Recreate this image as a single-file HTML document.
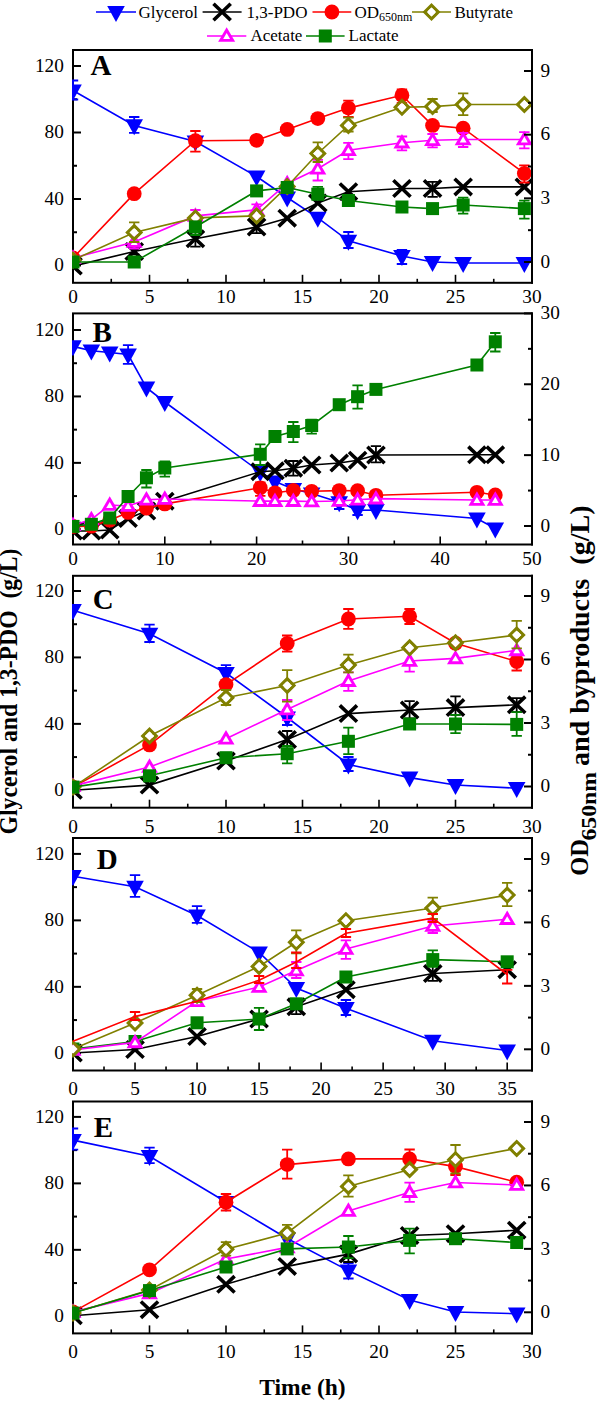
<!DOCTYPE html>
<html><head><meta charset="utf-8"><style>html,body{margin:0;padding:0;background:#fff;overflow:hidden}svg{display:block}</style></head><body>
<svg width="597" height="1401" viewBox="0 0 597 1401" font-family='"Liberation Serif", serif'>
<rect width="597" height="1401" fill="#ffffff"/>
<clipPath id="c0"><rect x="72" y="49" width="461" height="234.8"/></clipPath>
<rect x="73" y="50" width="459" height="232.8" fill="none" stroke="#000" stroke-width="2"/>
<path d="M73 265.5H81" stroke="#000" stroke-width="2"/>
<text x="63.8" y="271.32" font-size="19.3" text-anchor="end" font-weight="normal">0</text>
<path d="M73 232.25H77" stroke="#000" stroke-width="2"/>
<path d="M73 199H81" stroke="#000" stroke-width="2"/>
<text x="63.8" y="204.82" font-size="19.3" text-anchor="end" font-weight="normal">40</text>
<path d="M73 165.75H77" stroke="#000" stroke-width="2"/>
<path d="M73 132.5H81" stroke="#000" stroke-width="2"/>
<text x="63.8" y="138.32" font-size="19.3" text-anchor="end" font-weight="normal">80</text>
<path d="M73 99.25H77" stroke="#000" stroke-width="2"/>
<path d="M73 66H81" stroke="#000" stroke-width="2"/>
<text x="63.8" y="71.82" font-size="19.3" text-anchor="end" font-weight="normal">120</text>
<path d="M73 282.8V274.8" stroke="#000" stroke-width="1.6"/>
<text x="73" y="302.82" font-size="19.3" text-anchor="middle" font-weight="normal">0</text>
<path d="M111.25 282.8V278.8" stroke="#000" stroke-width="1.6"/>
<path d="M149.5 282.8V274.8" stroke="#000" stroke-width="1.6"/>
<text x="149.5" y="302.82" font-size="19.3" text-anchor="middle" font-weight="normal">5</text>
<path d="M187.75 282.8V278.8" stroke="#000" stroke-width="1.6"/>
<path d="M226 282.8V274.8" stroke="#000" stroke-width="1.6"/>
<text x="226" y="302.82" font-size="19.3" text-anchor="middle" font-weight="normal">10</text>
<path d="M264.25 282.8V278.8" stroke="#000" stroke-width="1.6"/>
<path d="M302.5 282.8V274.8" stroke="#000" stroke-width="1.6"/>
<text x="302.5" y="302.82" font-size="19.3" text-anchor="middle" font-weight="normal">15</text>
<path d="M340.75 282.8V278.8" stroke="#000" stroke-width="1.6"/>
<path d="M379 282.8V274.8" stroke="#000" stroke-width="1.6"/>
<text x="379" y="302.82" font-size="19.3" text-anchor="middle" font-weight="normal">20</text>
<path d="M417.25 282.8V278.8" stroke="#000" stroke-width="1.6"/>
<path d="M455.5 282.8V274.8" stroke="#000" stroke-width="1.6"/>
<text x="455.5" y="302.82" font-size="19.3" text-anchor="middle" font-weight="normal">25</text>
<path d="M493.75 282.8V278.8" stroke="#000" stroke-width="1.6"/>
<path d="M532 282.8V274.8" stroke="#000" stroke-width="1.6"/>
<text x="532" y="302.82" font-size="19.3" text-anchor="middle" font-weight="normal">30</text>
<g clip-path="url(#c0)">
<polyline points="73,90.5 134.2,125.4 195.4,141.5 256.6,176.5 287.2,197.5 317.8,217.9 348.4,240.8 401.95,256 432.55,262 463.15,263 524.35,263" fill="none" stroke="#0000ff" stroke-width="1.6"/>
<path d="M73 80.5V99.5M67.8 80.5H78.2M67.8 99.5H78.2" stroke="#0000ff" stroke-width="1.8" fill="none"/>
<path d="M134.2 117V132.8M129 117H139.4M129 132.8H139.4" stroke="#0000ff" stroke-width="1.8" fill="none"/>
<path d="M348.4 232V248M343.2 232H353.6M343.2 248H353.6" stroke="#0000ff" stroke-width="1.8" fill="none"/>
<path d="M401.95 250V264M396.75 250H407.15M396.75 264H407.15" stroke="#0000ff" stroke-width="1.8" fill="none"/>
<path d="M64.2 84.42L81.8 84.42L73 100.42Z" fill="#0000ff"/>
<path d="M125.4 119.32L143 119.32L134.2 135.32Z" fill="#0000ff"/>
<path d="M186.6 135.42L204.2 135.42L195.4 151.42Z" fill="#0000ff"/>
<path d="M247.8 170.42L265.4 170.42L256.6 186.42Z" fill="#0000ff"/>
<path d="M278.4 191.42L296 191.42L287.2 207.42Z" fill="#0000ff"/>
<path d="M309 211.82L326.6 211.82L317.8 227.82Z" fill="#0000ff"/>
<path d="M339.6 234.72L357.2 234.72L348.4 250.72Z" fill="#0000ff"/>
<path d="M393.15 249.92L410.75 249.92L401.95 265.92Z" fill="#0000ff"/>
<path d="M423.75 255.92L441.35 255.92L432.55 271.92Z" fill="#0000ff"/>
<path d="M454.35 256.92L471.95 256.92L463.15 272.92Z" fill="#0000ff"/>
<path d="M515.55 256.92L533.15 256.92L524.35 272.92Z" fill="#0000ff"/>
<polyline points="73,266.1 134.2,251.5 195.4,238.8 256.6,227 287.2,218.2 317.8,203 348.4,191.7 401.95,188.5 432.55,188.5 463.15,186.9 524.35,186.9" fill="none" stroke="#000000" stroke-width="1.6"/>
<path d="M134.2 246.7V254.4M129 246.7H139.4M129 254.4H139.4" stroke="#000000" stroke-width="1.8" fill="none"/>
<path d="M195.4 235V246.7M190.2 235H200.6M190.2 246.7H200.6" stroke="#000000" stroke-width="1.8" fill="none"/>
<path d="M256.6 221.6V233.2M251.4 221.6H261.8M251.4 233.2H261.8" stroke="#000000" stroke-width="1.8" fill="none"/>
<path d="M432.55 181.8V196.8M427.35 181.8H437.75M427.35 196.8H437.75" stroke="#000000" stroke-width="1.8" fill="none"/>
<path d="M64.4 257.9L81.6 274.3M64.4 274.3L81.6 257.9" stroke="#000000" stroke-width="3.6" stroke-linecap="butt" fill="none"/>
<path d="M125.6 243.3L142.8 259.7M125.6 259.7L142.8 243.3" stroke="#000000" stroke-width="3.6" stroke-linecap="butt" fill="none"/>
<path d="M186.8 230.6L204 247M186.8 247L204 230.6" stroke="#000000" stroke-width="3.6" stroke-linecap="butt" fill="none"/>
<path d="M248 218.8L265.2 235.2M248 235.2L265.2 218.8" stroke="#000000" stroke-width="3.6" stroke-linecap="butt" fill="none"/>
<path d="M278.6 210L295.8 226.4M278.6 226.4L295.8 210" stroke="#000000" stroke-width="3.6" stroke-linecap="butt" fill="none"/>
<path d="M309.2 194.8L326.4 211.2M309.2 211.2L326.4 194.8" stroke="#000000" stroke-width="3.6" stroke-linecap="butt" fill="none"/>
<path d="M339.8 183.5L357 199.9M339.8 199.9L357 183.5" stroke="#000000" stroke-width="3.6" stroke-linecap="butt" fill="none"/>
<path d="M393.35 180.3L410.55 196.7M393.35 196.7L410.55 180.3" stroke="#000000" stroke-width="3.6" stroke-linecap="butt" fill="none"/>
<path d="M423.95 180.3L441.15 196.7M423.95 196.7L441.15 180.3" stroke="#000000" stroke-width="3.6" stroke-linecap="butt" fill="none"/>
<path d="M454.55 178.7L471.75 195.1M454.55 195.1L471.75 178.7" stroke="#000000" stroke-width="3.6" stroke-linecap="butt" fill="none"/>
<path d="M515.75 178.7L532.95 195.1M515.75 195.1L532.95 178.7" stroke="#000000" stroke-width="3.6" stroke-linecap="butt" fill="none"/>
</g>
<g clip-path="url(#c0)">
<polyline points="73,258 134.2,193.7 195.4,140.7 256.6,140.3 287.2,129.4 317.8,118.6 348.4,108.1 401.95,95.3 432.55,125.4 463.15,128.2 524.35,173.4" fill="none" stroke="#ff0000" stroke-width="1.6"/>
<path d="M195.4 131V151.6M190.2 131H200.6M190.2 151.6H200.6" stroke="#ff0000" stroke-width="1.8" fill="none"/>
<path d="M348.4 100.6V117M343.2 100.6H353.6M343.2 117H353.6" stroke="#ff0000" stroke-width="1.8" fill="none"/>
<path d="M401.95 89.5V103M396.75 89.5H407.15M396.75 103H407.15" stroke="#ff0000" stroke-width="1.8" fill="none"/>
<path d="M524.35 165.4V182.5M519.15 165.4H529.55M519.15 182.5H529.55" stroke="#ff0000" stroke-width="1.8" fill="none"/>
<circle cx="73" cy="258" r="7.4" fill="#ff0000"/>
<circle cx="134.2" cy="193.7" r="7.4" fill="#ff0000"/>
<circle cx="195.4" cy="140.7" r="7.4" fill="#ff0000"/>
<circle cx="256.6" cy="140.3" r="7.4" fill="#ff0000"/>
<circle cx="287.2" cy="129.4" r="7.4" fill="#ff0000"/>
<circle cx="317.8" cy="118.6" r="7.4" fill="#ff0000"/>
<circle cx="348.4" cy="108.1" r="7.4" fill="#ff0000"/>
<circle cx="401.95" cy="95.3" r="7.4" fill="#ff0000"/>
<circle cx="432.55" cy="125.4" r="7.4" fill="#ff0000"/>
<circle cx="463.15" cy="128.2" r="7.4" fill="#ff0000"/>
<circle cx="524.35" cy="173.4" r="7.4" fill="#ff0000"/>
<polyline points="73,258 134.2,242 195.4,215.9 256.6,209.8 287.2,183.5 317.8,168.8 348.4,150.3 401.95,142.7 432.55,140.3 463.15,139.5 524.35,139.5" fill="none" stroke="#ff00ff" stroke-width="1.6"/>
<path d="M134.2 235V248.6M129 235H139.4M129 248.6H139.4" stroke="#ff00ff" stroke-width="1.8" fill="none"/>
<path d="M195.4 210V221.6M190.2 210H200.6M190.2 221.6H200.6" stroke="#ff00ff" stroke-width="1.8" fill="none"/>
<path d="M256.6 204.3V217.8M251.4 204.3H261.8M251.4 217.8H261.8" stroke="#ff00ff" stroke-width="1.8" fill="none"/>
<path d="M317.8 159.9V180.5M312.6 159.9H323M312.6 180.5H323" stroke="#ff00ff" stroke-width="1.8" fill="none"/>
<path d="M348.4 142.8V159.1M343.2 142.8H353.6M343.2 159.1H353.6" stroke="#ff00ff" stroke-width="1.8" fill="none"/>
<path d="M401.95 136.5V150.4M396.75 136.5H407.15M396.75 150.4H407.15" stroke="#ff00ff" stroke-width="1.8" fill="none"/>
<path d="M432.55 134V147.3M427.35 134H437.75M427.35 147.3H437.75" stroke="#ff00ff" stroke-width="1.8" fill="none"/>
<path d="M463.15 133V147M457.95 133H468.35M457.95 147H468.35" stroke="#ff00ff" stroke-width="1.8" fill="none"/>
<path d="M524.35 132.2V148.3M519.15 132.2H529.55M519.15 148.3H529.55" stroke="#ff00ff" stroke-width="1.8" fill="none"/>
<path d="M73 249.3L81.5 263.8L64.5 263.8Z" fill="#ff00ff"/><path d="M73 255.03L76.44 260.9L69.56 260.9Z" fill="#fff"/>
<path d="M134.2 233.3L142.7 247.8L125.7 247.8Z" fill="#ff00ff"/><path d="M134.2 239.03L137.64 244.9L130.76 244.9Z" fill="#fff"/>
<path d="M195.4 207.2L203.9 221.7L186.9 221.7Z" fill="#ff00ff"/><path d="M195.4 212.93L198.84 218.8L191.96 218.8Z" fill="#fff"/>
<path d="M256.6 201.1L265.1 215.6L248.1 215.6Z" fill="#ff00ff"/><path d="M256.6 206.83L260.04 212.7L253.16 212.7Z" fill="#fff"/>
<path d="M287.2 174.8L295.7 189.3L278.7 189.3Z" fill="#ff00ff"/><path d="M287.2 180.53L290.64 186.4L283.76 186.4Z" fill="#fff"/>
<path d="M317.8 160.1L326.3 174.6L309.3 174.6Z" fill="#ff00ff"/><path d="M317.8 165.83L321.24 171.7L314.36 171.7Z" fill="#fff"/>
<path d="M348.4 141.6L356.9 156.1L339.9 156.1Z" fill="#ff00ff"/><path d="M348.4 147.33L351.84 153.2L344.96 153.2Z" fill="#fff"/>
<path d="M401.95 134L410.45 148.5L393.45 148.5Z" fill="#ff00ff"/><path d="M401.95 139.73L405.39 145.6L398.51 145.6Z" fill="#fff"/>
<path d="M432.55 131.6L441.05 146.1L424.05 146.1Z" fill="#ff00ff"/><path d="M432.55 137.33L435.99 143.2L429.11 143.2Z" fill="#fff"/>
<path d="M463.15 130.8L471.65 145.3L454.65 145.3Z" fill="#ff00ff"/><path d="M463.15 136.53L466.59 142.4L459.71 142.4Z" fill="#fff"/>
<path d="M524.35 130.8L532.85 145.3L515.85 145.3Z" fill="#ff00ff"/><path d="M524.35 136.53L527.79 142.4L520.91 142.4Z" fill="#fff"/>
<polyline points="73,260 134.2,232.5 195.4,217.9 256.6,215.9 287.2,186.5 317.8,153.5 348.4,125.4 401.95,107.3 432.55,106.6 463.15,104.5 524.35,104.5" fill="none" stroke="#808000" stroke-width="1.6"/>
<path d="M134.2 222.4V242M129 222.4H139.4M129 242H139.4" stroke="#808000" stroke-width="1.8" fill="none"/>
<path d="M317.8 142.3V162M312.6 142.3H323M312.6 162H323" stroke="#808000" stroke-width="1.8" fill="none"/>
<path d="M348.4 117.7V131.5M343.2 117.7H353.6M343.2 131.5H353.6" stroke="#808000" stroke-width="1.8" fill="none"/>
<path d="M432.55 99V112M427.35 99H437.75M427.35 112H437.75" stroke="#808000" stroke-width="1.8" fill="none"/>
<path d="M463.15 93.4V115.2M457.95 93.4H468.35M457.95 115.2H468.35" stroke="#808000" stroke-width="1.8" fill="none"/>
<path d="M73 251L82 260L73 269L64 260ZM73 255.4L68.4 260L73 264.6L77.6 260Z" fill="#808000" fill-rule="evenodd"/><path d="M73 255.4L77.6 260L73 264.6L68.4 260Z" fill="#fff"/>
<path d="M134.2 223.5L143.2 232.5L134.2 241.5L125.2 232.5ZM134.2 227.9L129.6 232.5L134.2 237.1L138.8 232.5Z" fill="#808000" fill-rule="evenodd"/><path d="M134.2 227.9L138.8 232.5L134.2 237.1L129.6 232.5Z" fill="#fff"/>
<path d="M195.4 208.9L204.4 217.9L195.4 226.9L186.4 217.9ZM195.4 213.3L190.8 217.9L195.4 222.5L200 217.9Z" fill="#808000" fill-rule="evenodd"/><path d="M195.4 213.3L200 217.9L195.4 222.5L190.8 217.9Z" fill="#fff"/>
<path d="M256.6 206.9L265.6 215.9L256.6 224.9L247.6 215.9ZM256.6 211.3L252 215.9L256.6 220.5L261.2 215.9Z" fill="#808000" fill-rule="evenodd"/><path d="M256.6 211.3L261.2 215.9L256.6 220.5L252 215.9Z" fill="#fff"/>
<path d="M287.2 177.5L296.2 186.5L287.2 195.5L278.2 186.5ZM287.2 181.9L282.6 186.5L287.2 191.1L291.8 186.5Z" fill="#808000" fill-rule="evenodd"/><path d="M287.2 181.9L291.8 186.5L287.2 191.1L282.6 186.5Z" fill="#fff"/>
<path d="M317.8 144.5L326.8 153.5L317.8 162.5L308.8 153.5ZM317.8 148.9L313.2 153.5L317.8 158.1L322.4 153.5Z" fill="#808000" fill-rule="evenodd"/><path d="M317.8 148.9L322.4 153.5L317.8 158.1L313.2 153.5Z" fill="#fff"/>
<path d="M348.4 116.4L357.4 125.4L348.4 134.4L339.4 125.4ZM348.4 120.8L343.8 125.4L348.4 130L353 125.4Z" fill="#808000" fill-rule="evenodd"/><path d="M348.4 120.8L353 125.4L348.4 130L343.8 125.4Z" fill="#fff"/>
<path d="M401.95 98.3L410.95 107.3L401.95 116.3L392.95 107.3ZM401.95 102.7L397.35 107.3L401.95 111.9L406.55 107.3Z" fill="#808000" fill-rule="evenodd"/><path d="M401.95 102.7L406.55 107.3L401.95 111.9L397.35 107.3Z" fill="#fff"/>
<path d="M432.55 97.6L441.55 106.6L432.55 115.6L423.55 106.6ZM432.55 102L427.95 106.6L432.55 111.2L437.15 106.6Z" fill="#808000" fill-rule="evenodd"/><path d="M432.55 102L437.15 106.6L432.55 111.2L427.95 106.6Z" fill="#fff"/>
<path d="M463.15 95.5L472.15 104.5L463.15 113.5L454.15 104.5ZM463.15 99.9L458.55 104.5L463.15 109.1L467.75 104.5Z" fill="#808000" fill-rule="evenodd"/><path d="M463.15 99.9L467.75 104.5L463.15 109.1L458.55 104.5Z" fill="#fff"/>
<path d="M524.35 95.5L533.35 104.5L524.35 113.5L515.35 104.5ZM524.35 99.9L519.75 104.5L524.35 109.1L528.95 104.5Z" fill="#808000" fill-rule="evenodd"/><path d="M524.35 99.9L528.95 104.5L524.35 109.1L519.75 104.5Z" fill="#fff"/>
<polyline points="73,262 134.2,262 195.4,227 256.6,190.9 287.2,187.5 317.8,194.2 348.4,200.5 401.95,207 432.55,208.6 463.15,205 524.35,208.6" fill="none" stroke="#008000" stroke-width="1.6"/>
<path d="M195.4 221.6V235M190.2 221.6H200.6M190.2 235H200.6" stroke="#008000" stroke-width="1.8" fill="none"/>
<path d="M317.8 186.8V199.3M312.6 186.8H323M312.6 199.3H323" stroke="#008000" stroke-width="1.8" fill="none"/>
<path d="M463.15 197.6V213.6M457.95 197.6H468.35M457.95 213.6H468.35" stroke="#008000" stroke-width="1.8" fill="none"/>
<path d="M524.35 200.6V218.7M519.15 200.6H529.55M519.15 218.7H529.55" stroke="#008000" stroke-width="1.8" fill="none"/>
<rect x="66.5" y="255.5" width="13" height="13" fill="#008000"/>
<rect x="127.7" y="255.5" width="13" height="13" fill="#008000"/>
<rect x="188.9" y="220.5" width="13" height="13" fill="#008000"/>
<rect x="250.1" y="184.4" width="13" height="13" fill="#008000"/>
<rect x="280.7" y="181" width="13" height="13" fill="#008000"/>
<rect x="311.3" y="187.7" width="13" height="13" fill="#008000"/>
<rect x="341.9" y="194" width="13" height="13" fill="#008000"/>
<rect x="395.45" y="200.5" width="13" height="13" fill="#008000"/>
<rect x="426.05" y="202.1" width="13" height="13" fill="#008000"/>
<rect x="456.65" y="198.5" width="13" height="13" fill="#008000"/>
<rect x="517.85" y="202.1" width="13" height="13" fill="#008000"/>
</g>
<path d="M532 49V283.8" stroke="#000" stroke-width="2"/>
<path d="M524 262H532" stroke="#000" stroke-width="2"/>
<text x="540.5" y="267.72" font-size="19.3" text-anchor="start" font-weight="normal">0</text>
<path d="M528 230.17H532" stroke="#000" stroke-width="2"/>
<path d="M524 198.33H532" stroke="#000" stroke-width="2"/>
<text x="540.5" y="204.06" font-size="19.3" text-anchor="start" font-weight="normal">3</text>
<path d="M528 166.5H532" stroke="#000" stroke-width="2"/>
<path d="M524 134.67H532" stroke="#000" stroke-width="2"/>
<text x="540.5" y="140.39" font-size="19.3" text-anchor="start" font-weight="normal">6</text>
<path d="M528 102.83H532" stroke="#000" stroke-width="2"/>
<path d="M524 71H532" stroke="#000" stroke-width="2"/>
<text x="540.5" y="76.72" font-size="19.3" text-anchor="start" font-weight="normal">9</text>
<g transform="translate(90.5 75.1) scale(1 1)"><text x="0" y="0" font-size="29" font-weight="bold">A</text></g>
<clipPath id="c1"><rect x="72" y="312.4" width="461" height="233.1"/></clipPath>
<rect x="73" y="313.4" width="459" height="231.1" fill="none" stroke="#000" stroke-width="2"/>
<path d="M73 529.3H81" stroke="#000" stroke-width="2"/>
<text x="63.8" y="535.12" font-size="19.3" text-anchor="end" font-weight="normal">0</text>
<path d="M73 496.08H77" stroke="#000" stroke-width="2"/>
<path d="M73 462.87H81" stroke="#000" stroke-width="2"/>
<text x="63.8" y="468.69" font-size="19.3" text-anchor="end" font-weight="normal">40</text>
<path d="M73 429.65H77" stroke="#000" stroke-width="2"/>
<path d="M73 396.43H81" stroke="#000" stroke-width="2"/>
<text x="63.8" y="402.26" font-size="19.3" text-anchor="end" font-weight="normal">80</text>
<path d="M73 363.22H77" stroke="#000" stroke-width="2"/>
<path d="M73 330H81" stroke="#000" stroke-width="2"/>
<text x="63.8" y="335.82" font-size="19.3" text-anchor="end" font-weight="normal">120</text>
<path d="M73 544.5V536.5" stroke="#000" stroke-width="1.6"/>
<text x="73" y="564.52" font-size="19.3" text-anchor="middle" font-weight="normal">0</text>
<path d="M118.9 544.5V540.5" stroke="#000" stroke-width="1.6"/>
<path d="M164.8 544.5V536.5" stroke="#000" stroke-width="1.6"/>
<text x="164.8" y="564.52" font-size="19.3" text-anchor="middle" font-weight="normal">10</text>
<path d="M210.7 544.5V540.5" stroke="#000" stroke-width="1.6"/>
<path d="M256.6 544.5V536.5" stroke="#000" stroke-width="1.6"/>
<text x="256.6" y="564.52" font-size="19.3" text-anchor="middle" font-weight="normal">20</text>
<path d="M302.5 544.5V540.5" stroke="#000" stroke-width="1.6"/>
<path d="M348.4 544.5V536.5" stroke="#000" stroke-width="1.6"/>
<text x="348.4" y="564.52" font-size="19.3" text-anchor="middle" font-weight="normal">30</text>
<path d="M394.3 544.5V540.5" stroke="#000" stroke-width="1.6"/>
<path d="M440.2 544.5V536.5" stroke="#000" stroke-width="1.6"/>
<text x="440.2" y="564.52" font-size="19.3" text-anchor="middle" font-weight="normal">40</text>
<path d="M486.1 544.5V540.5" stroke="#000" stroke-width="1.6"/>
<path d="M532 544.5V536.5" stroke="#000" stroke-width="1.6"/>
<text x="532" y="564.52" font-size="19.3" text-anchor="middle" font-weight="normal">50</text>
<g clip-path="url(#c1)">
<polyline points="73,346.4 91.36,350.7 109.72,352.5 128.08,354.5 146.44,387.6 164.8,402 260.27,472 274.96,481.5 293.32,489 311.68,493.5 339.22,502.3 357.58,510.3 375.94,510 476.92,518.5 495.28,528.5" fill="none" stroke="#0000ff" stroke-width="1.6"/>
<path d="M128.08 345.2V363.8M122.88 345.2H133.28M122.88 363.8H133.28" stroke="#0000ff" stroke-width="1.8" fill="none"/>
<path d="M339.22 497V509M334.02 497H344.42M334.02 509H344.42" stroke="#0000ff" stroke-width="1.8" fill="none"/>
<path d="M357.58 505V515M352.38 505H362.78M352.38 515H362.78" stroke="#0000ff" stroke-width="1.8" fill="none"/>
<path d="M64.2 340.32L81.8 340.32L73 356.32Z" fill="#0000ff"/>
<path d="M82.56 344.62L100.16 344.62L91.36 360.62Z" fill="#0000ff"/>
<path d="M100.92 346.42L118.52 346.42L109.72 362.42Z" fill="#0000ff"/>
<path d="M119.28 348.42L136.88 348.42L128.08 364.42Z" fill="#0000ff"/>
<path d="M137.64 381.52L155.24 381.52L146.44 397.52Z" fill="#0000ff"/>
<path d="M156 395.92L173.6 395.92L164.8 411.92Z" fill="#0000ff"/>
<path d="M251.47 465.92L269.07 465.92L260.27 481.92Z" fill="#0000ff"/>
<path d="M266.16 475.42L283.76 475.42L274.96 491.42Z" fill="#0000ff"/>
<path d="M284.52 482.92L302.12 482.92L293.32 498.92Z" fill="#0000ff"/>
<path d="M302.88 487.42L320.48 487.42L311.68 503.42Z" fill="#0000ff"/>
<path d="M330.42 496.22L348.02 496.22L339.22 512.22Z" fill="#0000ff"/>
<path d="M348.78 504.22L366.38 504.22L357.58 520.22Z" fill="#0000ff"/>
<path d="M367.14 503.92L384.74 503.92L375.94 519.92Z" fill="#0000ff"/>
<path d="M468.12 512.42L485.72 512.42L476.92 528.42Z" fill="#0000ff"/>
<path d="M486.48 522.42L504.08 522.42L495.28 538.42Z" fill="#0000ff"/>
<polyline points="73,531 91.36,531 109.72,530 128.08,518.5 146.44,511 164.8,501.2 260.27,471.7 274.96,470.8 293.32,468.2 311.68,465 339.22,463 357.58,460.2 375.94,455 476.92,454.8 495.28,454.8" fill="none" stroke="#000000" stroke-width="1.6"/>
<path d="M293.32 461V475.7M288.12 461H298.52M288.12 475.7H298.52" stroke="#000000" stroke-width="1.8" fill="none"/>
<path d="M375.94 446.2V462.3M370.74 446.2H381.14M370.74 462.3H381.14" stroke="#000000" stroke-width="1.8" fill="none"/>
<path d="M64.4 522.8L81.6 539.2M64.4 539.2L81.6 522.8" stroke="#000000" stroke-width="3.6" stroke-linecap="butt" fill="none"/>
<path d="M82.76 522.8L99.96 539.2M82.76 539.2L99.96 522.8" stroke="#000000" stroke-width="3.6" stroke-linecap="butt" fill="none"/>
<path d="M101.12 521.8L118.32 538.2M101.12 538.2L118.32 521.8" stroke="#000000" stroke-width="3.6" stroke-linecap="butt" fill="none"/>
<path d="M119.48 510.3L136.68 526.7M119.48 526.7L136.68 510.3" stroke="#000000" stroke-width="3.6" stroke-linecap="butt" fill="none"/>
<path d="M137.84 502.8L155.04 519.2M137.84 519.2L155.04 502.8" stroke="#000000" stroke-width="3.6" stroke-linecap="butt" fill="none"/>
<path d="M156.2 493L173.4 509.4M156.2 509.4L173.4 493" stroke="#000000" stroke-width="3.6" stroke-linecap="butt" fill="none"/>
<path d="M251.67 463.5L268.87 479.9M251.67 479.9L268.87 463.5" stroke="#000000" stroke-width="3.6" stroke-linecap="butt" fill="none"/>
<path d="M266.36 462.6L283.56 479M266.36 479L283.56 462.6" stroke="#000000" stroke-width="3.6" stroke-linecap="butt" fill="none"/>
<path d="M284.72 460L301.92 476.4M284.72 476.4L301.92 460" stroke="#000000" stroke-width="3.6" stroke-linecap="butt" fill="none"/>
<path d="M303.08 456.8L320.28 473.2M303.08 473.2L320.28 456.8" stroke="#000000" stroke-width="3.6" stroke-linecap="butt" fill="none"/>
<path d="M330.62 454.8L347.82 471.2M330.62 471.2L347.82 454.8" stroke="#000000" stroke-width="3.6" stroke-linecap="butt" fill="none"/>
<path d="M348.98 452L366.18 468.4M348.98 468.4L366.18 452" stroke="#000000" stroke-width="3.6" stroke-linecap="butt" fill="none"/>
<path d="M367.34 446.8L384.54 463.2M367.34 463.2L384.54 446.8" stroke="#000000" stroke-width="3.6" stroke-linecap="butt" fill="none"/>
<path d="M468.32 446.6L485.52 463M468.32 463L485.52 446.6" stroke="#000000" stroke-width="3.6" stroke-linecap="butt" fill="none"/>
<path d="M486.68 446.6L503.88 463M486.68 463L503.88 446.6" stroke="#000000" stroke-width="3.6" stroke-linecap="butt" fill="none"/>
</g>
<g clip-path="url(#c1)">
<polyline points="73,526.4 91.36,526.2 109.72,520.2 128.08,512.4 146.44,508.2 164.8,503.9 260.27,487.8 274.96,492.8 293.32,490.5 311.68,491.3 339.22,490.6 357.58,490.7 375.94,495.3 476.92,492.3 495.28,495" fill="none" stroke="#ff0000" stroke-width="1.6"/>
<path d="M260.27 482.4V495.8M255.07 482.4H265.47M255.07 495.8H265.47" stroke="#ff0000" stroke-width="1.8" fill="none"/>
<circle cx="73" cy="526.4" r="7.4" fill="#ff0000"/>
<circle cx="91.36" cy="526.2" r="7.4" fill="#ff0000"/>
<circle cx="109.72" cy="520.2" r="7.4" fill="#ff0000"/>
<circle cx="128.08" cy="512.4" r="7.4" fill="#ff0000"/>
<circle cx="146.44" cy="508.2" r="7.4" fill="#ff0000"/>
<circle cx="164.8" cy="503.9" r="7.4" fill="#ff0000"/>
<circle cx="260.27" cy="487.8" r="7.4" fill="#ff0000"/>
<circle cx="274.96" cy="492.8" r="7.4" fill="#ff0000"/>
<circle cx="293.32" cy="490.5" r="7.4" fill="#ff0000"/>
<circle cx="311.68" cy="491.3" r="7.4" fill="#ff0000"/>
<circle cx="339.22" cy="490.6" r="7.4" fill="#ff0000"/>
<circle cx="357.58" cy="490.7" r="7.4" fill="#ff0000"/>
<circle cx="375.94" cy="495.3" r="7.4" fill="#ff0000"/>
<circle cx="476.92" cy="492.3" r="7.4" fill="#ff0000"/>
<circle cx="495.28" cy="495" r="7.4" fill="#ff0000"/>
<polyline points="73,525.3 91.36,519.5 109.72,505 128.08,506 146.44,499.8 164.8,499 260.27,501.1 274.96,501.1 293.32,501.1 311.68,501.5 339.22,501 357.58,499.8 375.94,498.6 476.92,500 495.28,500" fill="none" stroke="#ff00ff" stroke-width="1.6"/>
<path d="M73 516.6L81.5 531.1L64.5 531.1Z" fill="#ff00ff"/><path d="M73 522.33L76.44 528.2L69.56 528.2Z" fill="#fff"/>
<path d="M91.36 510.8L99.86 525.3L82.86 525.3Z" fill="#ff00ff"/><path d="M91.36 516.53L94.8 522.4L87.92 522.4Z" fill="#fff"/>
<path d="M109.72 496.3L118.22 510.8L101.22 510.8Z" fill="#ff00ff"/><path d="M109.72 502.03L113.16 507.9L106.28 507.9Z" fill="#fff"/>
<path d="M128.08 497.3L136.58 511.8L119.58 511.8Z" fill="#ff00ff"/><path d="M128.08 503.03L131.52 508.9L124.64 508.9Z" fill="#fff"/>
<path d="M146.44 491.1L154.94 505.6L137.94 505.6Z" fill="#ff00ff"/><path d="M146.44 496.83L149.88 502.7L143 502.7Z" fill="#fff"/>
<path d="M164.8 490.3L173.3 504.8L156.3 504.8Z" fill="#ff00ff"/><path d="M164.8 496.03L168.24 501.9L161.36 501.9Z" fill="#fff"/>
<path d="M260.27 492.4L268.77 506.9L251.77 506.9Z" fill="#ff00ff"/><path d="M260.27 498.13L263.71 504L256.83 504Z" fill="#fff"/>
<path d="M274.96 492.4L283.46 506.9L266.46 506.9Z" fill="#ff00ff"/><path d="M274.96 498.13L278.4 504L271.52 504Z" fill="#fff"/>
<path d="M293.32 492.4L301.82 506.9L284.82 506.9Z" fill="#ff00ff"/><path d="M293.32 498.13L296.76 504L289.88 504Z" fill="#fff"/>
<path d="M311.68 492.8L320.18 507.3L303.18 507.3Z" fill="#ff00ff"/><path d="M311.68 498.53L315.12 504.4L308.24 504.4Z" fill="#fff"/>
<path d="M339.22 492.3L347.72 506.8L330.72 506.8Z" fill="#ff00ff"/><path d="M339.22 498.03L342.66 503.9L335.78 503.9Z" fill="#fff"/>
<path d="M357.58 491.1L366.08 505.6L349.08 505.6Z" fill="#ff00ff"/><path d="M357.58 496.83L361.02 502.7L354.14 502.7Z" fill="#fff"/>
<path d="M375.94 489.9L384.44 504.4L367.44 504.4Z" fill="#ff00ff"/><path d="M375.94 495.63L379.38 501.5L372.5 501.5Z" fill="#fff"/>
<path d="M476.92 491.3L485.42 505.8L468.42 505.8Z" fill="#ff00ff"/><path d="M476.92 497.03L480.36 502.9L473.48 502.9Z" fill="#fff"/>
<path d="M495.28 491.3L503.78 505.8L486.78 505.8Z" fill="#ff00ff"/><path d="M495.28 497.03L498.72 502.9L491.84 502.9Z" fill="#fff"/>
<polyline points="73,526.4 91.36,524.3 109.72,518 128.08,496.5 146.44,477.8 164.8,468 260.27,454.3 274.96,436.5 293.32,431.5 311.68,425.5 339.22,404.7 357.58,396.7 375.94,389.4 476.92,365 495.28,341.8" fill="none" stroke="#008000" stroke-width="1.6"/>
<path d="M146.44 470V487.5M141.24 470H151.64M141.24 487.5H151.64" stroke="#008000" stroke-width="1.8" fill="none"/>
<path d="M164.8 461.4V476.6M159.6 461.4H170M159.6 476.6H170" stroke="#008000" stroke-width="1.8" fill="none"/>
<path d="M260.27 444.3V465M255.07 444.3H265.47M255.07 465H265.47" stroke="#008000" stroke-width="1.8" fill="none"/>
<path d="M293.32 422V442.2M288.12 422H298.52M288.12 442.2H298.52" stroke="#008000" stroke-width="1.8" fill="none"/>
<path d="M311.68 419.6V433.6M306.48 419.6H316.88M306.48 433.6H316.88" stroke="#008000" stroke-width="1.8" fill="none"/>
<path d="M357.58 385.4V408.7M352.38 385.4H362.78M352.38 408.7H362.78" stroke="#008000" stroke-width="1.8" fill="none"/>
<path d="M495.28 333V351.5M490.08 333H500.48M490.08 351.5H500.48" stroke="#008000" stroke-width="1.8" fill="none"/>
<rect x="66.5" y="519.9" width="13" height="13" fill="#008000"/>
<rect x="84.86" y="517.8" width="13" height="13" fill="#008000"/>
<rect x="103.22" y="511.5" width="13" height="13" fill="#008000"/>
<rect x="121.58" y="490" width="13" height="13" fill="#008000"/>
<rect x="139.94" y="471.3" width="13" height="13" fill="#008000"/>
<rect x="158.3" y="461.5" width="13" height="13" fill="#008000"/>
<rect x="253.77" y="447.8" width="13" height="13" fill="#008000"/>
<rect x="268.46" y="430" width="13" height="13" fill="#008000"/>
<rect x="286.82" y="425" width="13" height="13" fill="#008000"/>
<rect x="305.18" y="419" width="13" height="13" fill="#008000"/>
<rect x="332.72" y="398.2" width="13" height="13" fill="#008000"/>
<rect x="351.08" y="390.2" width="13" height="13" fill="#008000"/>
<rect x="369.44" y="382.9" width="13" height="13" fill="#008000"/>
<rect x="470.42" y="358.5" width="13" height="13" fill="#008000"/>
<rect x="488.78" y="335.3" width="13" height="13" fill="#008000"/>
</g>
<path d="M532 312.4V545.5" stroke="#000" stroke-width="2"/>
<path d="M524 526H532" stroke="#000" stroke-width="2"/>
<text x="540.5" y="531.72" font-size="19.3" text-anchor="start" font-weight="normal">0</text>
<path d="M528 490.57H532" stroke="#000" stroke-width="2"/>
<path d="M524 455.13H532" stroke="#000" stroke-width="2"/>
<text x="540.5" y="460.86" font-size="19.3" text-anchor="start" font-weight="normal">10</text>
<path d="M528 419.7H532" stroke="#000" stroke-width="2"/>
<path d="M524 384.27H532" stroke="#000" stroke-width="2"/>
<text x="540.5" y="389.99" font-size="19.3" text-anchor="start" font-weight="normal">20</text>
<path d="M528 348.83H532" stroke="#000" stroke-width="2"/>
<path d="M524 313.4H532" stroke="#000" stroke-width="2"/>
<text x="540.5" y="319.12" font-size="19.3" text-anchor="start" font-weight="normal">30</text>
<g transform="translate(92.5 341.5) scale(1 1)"><text x="0" y="0" font-size="29" font-weight="bold">B</text></g>
<clipPath id="c2"><rect x="72" y="574.8" width="461" height="233.9"/></clipPath>
<rect x="73" y="575.8" width="459" height="231.9" fill="none" stroke="#000" stroke-width="2"/>
<path d="M73 790.3H81" stroke="#000" stroke-width="2"/>
<text x="63.8" y="796.12" font-size="19.3" text-anchor="end" font-weight="normal">0</text>
<path d="M73 757.08H77" stroke="#000" stroke-width="2"/>
<path d="M73 723.87H81" stroke="#000" stroke-width="2"/>
<text x="63.8" y="729.69" font-size="19.3" text-anchor="end" font-weight="normal">40</text>
<path d="M73 690.65H77" stroke="#000" stroke-width="2"/>
<path d="M73 657.43H81" stroke="#000" stroke-width="2"/>
<text x="63.8" y="663.26" font-size="19.3" text-anchor="end" font-weight="normal">80</text>
<path d="M73 624.22H77" stroke="#000" stroke-width="2"/>
<path d="M73 591H81" stroke="#000" stroke-width="2"/>
<text x="63.8" y="596.82" font-size="19.3" text-anchor="end" font-weight="normal">120</text>
<path d="M73 807.7V799.7" stroke="#000" stroke-width="1.6"/>
<text x="73" y="832.52" font-size="19.3" text-anchor="middle" font-weight="normal">0</text>
<path d="M111.25 807.7V803.7" stroke="#000" stroke-width="1.6"/>
<path d="M149.5 807.7V799.7" stroke="#000" stroke-width="1.6"/>
<text x="149.5" y="832.52" font-size="19.3" text-anchor="middle" font-weight="normal">5</text>
<path d="M187.75 807.7V803.7" stroke="#000" stroke-width="1.6"/>
<path d="M226 807.7V799.7" stroke="#000" stroke-width="1.6"/>
<text x="226" y="832.52" font-size="19.3" text-anchor="middle" font-weight="normal">10</text>
<path d="M264.25 807.7V803.7" stroke="#000" stroke-width="1.6"/>
<path d="M302.5 807.7V799.7" stroke="#000" stroke-width="1.6"/>
<text x="302.5" y="832.52" font-size="19.3" text-anchor="middle" font-weight="normal">15</text>
<path d="M340.75 807.7V803.7" stroke="#000" stroke-width="1.6"/>
<path d="M379 807.7V799.7" stroke="#000" stroke-width="1.6"/>
<text x="379" y="832.52" font-size="19.3" text-anchor="middle" font-weight="normal">20</text>
<path d="M417.25 807.7V803.7" stroke="#000" stroke-width="1.6"/>
<path d="M455.5 807.7V799.7" stroke="#000" stroke-width="1.6"/>
<text x="455.5" y="832.52" font-size="19.3" text-anchor="middle" font-weight="normal">25</text>
<path d="M493.75 807.7V803.7" stroke="#000" stroke-width="1.6"/>
<path d="M532 807.7V799.7" stroke="#000" stroke-width="1.6"/>
<text x="532" y="832.52" font-size="19.3" text-anchor="middle" font-weight="normal">30</text>
<g clip-path="url(#c2)">
<polyline points="73,610.2 149.5,633.8 226,673 287.2,717.5 348.4,764.5 409.6,777.6 455.5,785 516.7,788.2" fill="none" stroke="#0000ff" stroke-width="1.6"/>
<path d="M149.5 624.7V642M144.3 624.7H154.7M144.3 642H154.7" stroke="#0000ff" stroke-width="1.8" fill="none"/>
<path d="M226 665.1V682.4M220.8 665.1H231.2M220.8 682.4H231.2" stroke="#0000ff" stroke-width="1.8" fill="none"/>
<path d="M287.2 710V725M282 710H292.4M282 725H292.4" stroke="#0000ff" stroke-width="1.8" fill="none"/>
<path d="M348.4 757V771M343.2 757H353.6M343.2 771H353.6" stroke="#0000ff" stroke-width="1.8" fill="none"/>
<path d="M64.2 604.12L81.8 604.12L73 620.12Z" fill="#0000ff"/>
<path d="M140.7 627.72L158.3 627.72L149.5 643.72Z" fill="#0000ff"/>
<path d="M217.2 666.92L234.8 666.92L226 682.92Z" fill="#0000ff"/>
<path d="M278.4 711.42L296 711.42L287.2 727.42Z" fill="#0000ff"/>
<path d="M339.6 758.42L357.2 758.42L348.4 774.42Z" fill="#0000ff"/>
<path d="M400.8 771.52L418.4 771.52L409.6 787.52Z" fill="#0000ff"/>
<path d="M446.7 778.92L464.3 778.92L455.5 794.92Z" fill="#0000ff"/>
<path d="M507.9 782.12L525.5 782.12L516.7 798.12Z" fill="#0000ff"/>
<polyline points="73,790.3 149.5,785.1 226,761 287.2,739.5 348.4,713.6 409.6,710 455.5,707.6 516.7,704.8" fill="none" stroke="#000000" stroke-width="1.6"/>
<path d="M287.2 731V746M282 731H292.4M282 746H292.4" stroke="#000000" stroke-width="1.8" fill="none"/>
<path d="M409.6 701.1V718.5M404.4 701.1H414.8M404.4 718.5H414.8" stroke="#000000" stroke-width="1.8" fill="none"/>
<path d="M455.5 696.3V714.8M450.3 696.3H460.7M450.3 714.8H460.7" stroke="#000000" stroke-width="1.8" fill="none"/>
<path d="M516.7 698.2V712.2M511.5 698.2H521.9M511.5 712.2H521.9" stroke="#000000" stroke-width="1.8" fill="none"/>
<path d="M64.4 782.1L81.6 798.5M64.4 798.5L81.6 782.1" stroke="#000000" stroke-width="3.6" stroke-linecap="butt" fill="none"/>
<path d="M140.9 776.9L158.1 793.3M140.9 793.3L158.1 776.9" stroke="#000000" stroke-width="3.6" stroke-linecap="butt" fill="none"/>
<path d="M217.4 752.8L234.6 769.2M217.4 769.2L234.6 752.8" stroke="#000000" stroke-width="3.6" stroke-linecap="butt" fill="none"/>
<path d="M278.6 731.3L295.8 747.7M278.6 747.7L295.8 731.3" stroke="#000000" stroke-width="3.6" stroke-linecap="butt" fill="none"/>
<path d="M339.8 705.4L357 721.8M339.8 721.8L357 705.4" stroke="#000000" stroke-width="3.6" stroke-linecap="butt" fill="none"/>
<path d="M401 701.8L418.2 718.2M401 718.2L418.2 701.8" stroke="#000000" stroke-width="3.6" stroke-linecap="butt" fill="none"/>
<path d="M446.9 699.4L464.1 715.8M446.9 715.8L464.1 699.4" stroke="#000000" stroke-width="3.6" stroke-linecap="butt" fill="none"/>
<path d="M508.1 696.6L525.3 713M508.1 713L525.3 696.6" stroke="#000000" stroke-width="3.6" stroke-linecap="butt" fill="none"/>
</g>
<g clip-path="url(#c2)">
<polyline points="73,787.1 149.5,744.9 226,684.6 287.2,643.5 348.4,619 409.6,616.3 455.5,643.2 516.7,661.5" fill="none" stroke="#ff0000" stroke-width="1.6"/>
<path d="M287.2 635.5V651.6M282 635.5H292.4M282 651.6H292.4" stroke="#ff0000" stroke-width="1.8" fill="none"/>
<path d="M348.4 609V628.9M343.2 609H353.6M343.2 628.9H353.6" stroke="#ff0000" stroke-width="1.8" fill="none"/>
<path d="M409.6 609V624M404.4 609H414.8M404.4 624H414.8" stroke="#ff0000" stroke-width="1.8" fill="none"/>
<path d="M516.7 654V670.5M511.5 654H521.9M511.5 670.5H521.9" stroke="#ff0000" stroke-width="1.8" fill="none"/>
<circle cx="73" cy="787.1" r="7.4" fill="#ff0000"/>
<circle cx="149.5" cy="744.9" r="7.4" fill="#ff0000"/>
<circle cx="226" cy="684.6" r="7.4" fill="#ff0000"/>
<circle cx="287.2" cy="643.5" r="7.4" fill="#ff0000"/>
<circle cx="348.4" cy="619" r="7.4" fill="#ff0000"/>
<circle cx="409.6" cy="616.3" r="7.4" fill="#ff0000"/>
<circle cx="455.5" cy="643.2" r="7.4" fill="#ff0000"/>
<circle cx="516.7" cy="661.5" r="7.4" fill="#ff0000"/>
<polyline points="73,785.9 149.5,767 226,738.8 287.2,709.5 348.4,681.1 409.6,661 455.5,658.4 516.7,650.4" fill="none" stroke="#ff00ff" stroke-width="1.6"/>
<path d="M287.2 700V720M282 700H292.4M282 720H292.4" stroke="#ff00ff" stroke-width="1.8" fill="none"/>
<path d="M348.4 672.4V690.8M343.2 672.4H353.6M343.2 690.8H353.6" stroke="#ff00ff" stroke-width="1.8" fill="none"/>
<path d="M409.6 650.3V671.7M404.4 650.3H414.8M404.4 671.7H414.8" stroke="#ff00ff" stroke-width="1.8" fill="none"/>
<path d="M73 777.2L81.5 791.7L64.5 791.7Z" fill="#ff00ff"/><path d="M73 782.93L76.44 788.8L69.56 788.8Z" fill="#fff"/>
<path d="M149.5 758.3L158 772.8L141 772.8Z" fill="#ff00ff"/><path d="M149.5 764.03L152.94 769.9L146.06 769.9Z" fill="#fff"/>
<path d="M226 730.1L234.5 744.6L217.5 744.6Z" fill="#ff00ff"/><path d="M226 735.83L229.44 741.7L222.56 741.7Z" fill="#fff"/>
<path d="M287.2 700.8L295.7 715.3L278.7 715.3Z" fill="#ff00ff"/><path d="M287.2 706.53L290.64 712.4L283.76 712.4Z" fill="#fff"/>
<path d="M348.4 672.4L356.9 686.9L339.9 686.9Z" fill="#ff00ff"/><path d="M348.4 678.13L351.84 684L344.96 684Z" fill="#fff"/>
<path d="M409.6 652.3L418.1 666.8L401.1 666.8Z" fill="#ff00ff"/><path d="M409.6 658.03L413.04 663.9L406.16 663.9Z" fill="#fff"/>
<path d="M455.5 649.7L464 664.2L447 664.2Z" fill="#ff00ff"/><path d="M455.5 655.43L458.94 661.3L452.06 661.3Z" fill="#fff"/>
<path d="M516.7 641.7L525.2 656.2L508.2 656.2Z" fill="#ff00ff"/><path d="M516.7 647.43L520.14 653.3L513.26 653.3Z" fill="#fff"/>
<polyline points="73,787.1 149.5,736 226,697.8 287.2,685.5 348.4,665.1 409.6,647.8 455.5,642.7 516.7,635" fill="none" stroke="#808000" stroke-width="1.6"/>
<path d="M226 690V705M220.8 690H231.2M220.8 705H231.2" stroke="#808000" stroke-width="1.8" fill="none"/>
<path d="M287.2 670.1V701.7M282 670.1H292.4M282 701.7H292.4" stroke="#808000" stroke-width="1.8" fill="none"/>
<path d="M348.4 654.7V672.4M343.2 654.7H353.6M343.2 672.4H353.6" stroke="#808000" stroke-width="1.8" fill="none"/>
<path d="M516.7 620.8V648.4M511.5 620.8H521.9M511.5 648.4H521.9" stroke="#808000" stroke-width="1.8" fill="none"/>
<path d="M73 778.1L82 787.1L73 796.1L64 787.1ZM73 782.5L68.4 787.1L73 791.7L77.6 787.1Z" fill="#808000" fill-rule="evenodd"/><path d="M73 782.5L77.6 787.1L73 791.7L68.4 787.1Z" fill="#fff"/>
<path d="M149.5 727L158.5 736L149.5 745L140.5 736ZM149.5 731.4L144.9 736L149.5 740.6L154.1 736Z" fill="#808000" fill-rule="evenodd"/><path d="M149.5 731.4L154.1 736L149.5 740.6L144.9 736Z" fill="#fff"/>
<path d="M226 688.8L235 697.8L226 706.8L217 697.8ZM226 693.2L221.4 697.8L226 702.4L230.6 697.8Z" fill="#808000" fill-rule="evenodd"/><path d="M226 693.2L230.6 697.8L226 702.4L221.4 697.8Z" fill="#fff"/>
<path d="M287.2 676.5L296.2 685.5L287.2 694.5L278.2 685.5ZM287.2 680.9L282.6 685.5L287.2 690.1L291.8 685.5Z" fill="#808000" fill-rule="evenodd"/><path d="M287.2 680.9L291.8 685.5L287.2 690.1L282.6 685.5Z" fill="#fff"/>
<path d="M348.4 656.1L357.4 665.1L348.4 674.1L339.4 665.1ZM348.4 660.5L343.8 665.1L348.4 669.7L353 665.1Z" fill="#808000" fill-rule="evenodd"/><path d="M348.4 660.5L353 665.1L348.4 669.7L343.8 665.1Z" fill="#fff"/>
<path d="M409.6 638.8L418.6 647.8L409.6 656.8L400.6 647.8ZM409.6 643.2L405 647.8L409.6 652.4L414.2 647.8Z" fill="#808000" fill-rule="evenodd"/><path d="M409.6 643.2L414.2 647.8L409.6 652.4L405 647.8Z" fill="#fff"/>
<path d="M455.5 633.7L464.5 642.7L455.5 651.7L446.5 642.7ZM455.5 638.1L450.9 642.7L455.5 647.3L460.1 642.7Z" fill="#808000" fill-rule="evenodd"/><path d="M455.5 638.1L460.1 642.7L455.5 647.3L450.9 642.7Z" fill="#fff"/>
<path d="M516.7 626L525.7 635L516.7 644L507.7 635ZM516.7 630.4L512.1 635L516.7 639.6L521.3 635Z" fill="#808000" fill-rule="evenodd"/><path d="M516.7 630.4L521.3 635L516.7 639.6L512.1 635Z" fill="#fff"/>
<polyline points="73,787.1 149.5,775.8 226,757.7 287.2,753.7 348.4,741.3 409.6,724 455.5,724 516.7,724.4" fill="none" stroke="#008000" stroke-width="1.6"/>
<path d="M287.2 746V763.3M282 746H292.4M282 763.3H292.4" stroke="#008000" stroke-width="1.8" fill="none"/>
<path d="M348.4 727.7V754.2M343.2 727.7H353.6M343.2 754.2H353.6" stroke="#008000" stroke-width="1.8" fill="none"/>
<path d="M455.5 714.8V733.2M450.3 714.8H460.7M450.3 733.2H460.7" stroke="#008000" stroke-width="1.8" fill="none"/>
<path d="M516.7 712.2V735.8M511.5 712.2H521.9M511.5 735.8H521.9" stroke="#008000" stroke-width="1.8" fill="none"/>
<rect x="66.5" y="780.6" width="13" height="13" fill="#008000"/>
<rect x="143" y="769.3" width="13" height="13" fill="#008000"/>
<rect x="219.5" y="751.2" width="13" height="13" fill="#008000"/>
<rect x="280.7" y="747.2" width="13" height="13" fill="#008000"/>
<rect x="341.9" y="734.8" width="13" height="13" fill="#008000"/>
<rect x="403.1" y="717.5" width="13" height="13" fill="#008000"/>
<rect x="449" y="717.5" width="13" height="13" fill="#008000"/>
<rect x="510.2" y="717.9" width="13" height="13" fill="#008000"/>
</g>
<path d="M532 574.8V808.7" stroke="#000" stroke-width="2"/>
<path d="M524 786.5H532" stroke="#000" stroke-width="2"/>
<text x="540.5" y="792.22" font-size="19.3" text-anchor="start" font-weight="normal">0</text>
<path d="M528 754.75H532" stroke="#000" stroke-width="2"/>
<path d="M524 723H532" stroke="#000" stroke-width="2"/>
<text x="540.5" y="728.72" font-size="19.3" text-anchor="start" font-weight="normal">3</text>
<path d="M528 691.25H532" stroke="#000" stroke-width="2"/>
<path d="M524 659.5H532" stroke="#000" stroke-width="2"/>
<text x="540.5" y="665.22" font-size="19.3" text-anchor="start" font-weight="normal">6</text>
<path d="M528 627.75H532" stroke="#000" stroke-width="2"/>
<path d="M524 596H532" stroke="#000" stroke-width="2"/>
<text x="540.5" y="601.72" font-size="19.3" text-anchor="start" font-weight="normal">9</text>
<g transform="translate(92.8 608.8) scale(1 1)"><text x="0" y="0" font-size="29" font-weight="bold">C</text></g>
<clipPath id="c3"><rect x="72" y="837" width="461" height="234.5"/></clipPath>
<rect x="73" y="838" width="459" height="232.5" fill="none" stroke="#000" stroke-width="2"/>
<path d="M73 1053.3H81" stroke="#000" stroke-width="2"/>
<text x="63.8" y="1059.12" font-size="19.3" text-anchor="end" font-weight="normal">0</text>
<path d="M73 1020.07H77" stroke="#000" stroke-width="2"/>
<path d="M73 986.83H81" stroke="#000" stroke-width="2"/>
<text x="63.8" y="992.66" font-size="19.3" text-anchor="end" font-weight="normal">40</text>
<path d="M73 953.6H77" stroke="#000" stroke-width="2"/>
<path d="M73 920.37H81" stroke="#000" stroke-width="2"/>
<text x="63.8" y="926.19" font-size="19.3" text-anchor="end" font-weight="normal">80</text>
<path d="M73 887.13H77" stroke="#000" stroke-width="2"/>
<path d="M73 853.9H81" stroke="#000" stroke-width="2"/>
<text x="63.8" y="859.72" font-size="19.3" text-anchor="end" font-weight="normal">120</text>
<path d="M73 1070.5V1062.5" stroke="#000" stroke-width="1.6"/>
<text x="73" y="1095.32" font-size="19.3" text-anchor="middle" font-weight="normal">0</text>
<path d="M104.01 1070.5V1066.5" stroke="#000" stroke-width="1.6"/>
<path d="M135.03 1070.5V1062.5" stroke="#000" stroke-width="1.6"/>
<text x="135.03" y="1095.32" font-size="19.3" text-anchor="middle" font-weight="normal">5</text>
<path d="M166.04 1070.5V1066.5" stroke="#000" stroke-width="1.6"/>
<path d="M197.05 1070.5V1062.5" stroke="#000" stroke-width="1.6"/>
<text x="197.05" y="1095.32" font-size="19.3" text-anchor="middle" font-weight="normal">10</text>
<path d="M228.07 1070.5V1066.5" stroke="#000" stroke-width="1.6"/>
<path d="M259.08 1070.5V1062.5" stroke="#000" stroke-width="1.6"/>
<text x="259.08" y="1095.32" font-size="19.3" text-anchor="middle" font-weight="normal">15</text>
<path d="M290.09 1070.5V1066.5" stroke="#000" stroke-width="1.6"/>
<path d="M321.11 1070.5V1062.5" stroke="#000" stroke-width="1.6"/>
<text x="321.11" y="1095.32" font-size="19.3" text-anchor="middle" font-weight="normal">20</text>
<path d="M352.12 1070.5V1066.5" stroke="#000" stroke-width="1.6"/>
<path d="M383.14 1070.5V1062.5" stroke="#000" stroke-width="1.6"/>
<text x="383.14" y="1095.32" font-size="19.3" text-anchor="middle" font-weight="normal">25</text>
<path d="M414.15 1070.5V1066.5" stroke="#000" stroke-width="1.6"/>
<path d="M445.16 1070.5V1062.5" stroke="#000" stroke-width="1.6"/>
<text x="445.16" y="1095.32" font-size="19.3" text-anchor="middle" font-weight="normal">30</text>
<path d="M476.18 1070.5V1066.5" stroke="#000" stroke-width="1.6"/>
<path d="M507.19 1070.5V1062.5" stroke="#000" stroke-width="1.6"/>
<text x="507.19" y="1095.32" font-size="19.3" text-anchor="middle" font-weight="normal">35</text>
<g clip-path="url(#c3)">
<polyline points="73,876.2 135.03,886.8 197.05,915.5 259.08,952.5 296.3,988 345.92,1008.2 432.76,1040.8 507.19,1050.5" fill="none" stroke="#0000ff" stroke-width="1.6"/>
<path d="M135.03 875.1V896.9M129.83 875.1H140.23M129.83 896.9H140.23" stroke="#0000ff" stroke-width="1.8" fill="none"/>
<path d="M197.05 906.1V922.8M191.85 906.1H202.25M191.85 922.8H202.25" stroke="#0000ff" stroke-width="1.8" fill="none"/>
<path d="M345.92 1000V1015M340.72 1000H351.12M340.72 1015H351.12" stroke="#0000ff" stroke-width="1.8" fill="none"/>
<path d="M64.2 870.12L81.8 870.12L73 886.12Z" fill="#0000ff"/>
<path d="M126.23 880.72L143.83 880.72L135.03 896.72Z" fill="#0000ff"/>
<path d="M188.25 909.42L205.85 909.42L197.05 925.42Z" fill="#0000ff"/>
<path d="M250.28 946.42L267.88 946.42L259.08 962.42Z" fill="#0000ff"/>
<path d="M287.5 981.92L305.1 981.92L296.3 997.92Z" fill="#0000ff"/>
<path d="M337.12 1002.12L354.72 1002.12L345.92 1018.12Z" fill="#0000ff"/>
<path d="M423.96 1034.72L441.56 1034.72L432.76 1050.72Z" fill="#0000ff"/>
<path d="M498.39 1044.42L515.99 1044.42L507.19 1060.42Z" fill="#0000ff"/>
<polyline points="73,1053 135.03,1049.5 197.05,1036.5 259.08,1019 296.3,1006.8 345.92,989.7 432.76,973.5 507.19,969.7" fill="none" stroke="#000000" stroke-width="1.6"/>
<path d="M296.3 999.5V1014.1M291.1 999.5H301.5M291.1 1014.1H301.5" stroke="#000000" stroke-width="1.8" fill="none"/>
<path d="M432.76 965V980.9M427.56 965H437.96M427.56 980.9H437.96" stroke="#000000" stroke-width="1.8" fill="none"/>
<path d="M64.4 1044.8L81.6 1061.2M64.4 1061.2L81.6 1044.8" stroke="#000000" stroke-width="3.6" stroke-linecap="butt" fill="none"/>
<path d="M126.43 1041.3L143.63 1057.7M126.43 1057.7L143.63 1041.3" stroke="#000000" stroke-width="3.6" stroke-linecap="butt" fill="none"/>
<path d="M188.45 1028.3L205.65 1044.7M188.45 1044.7L205.65 1028.3" stroke="#000000" stroke-width="3.6" stroke-linecap="butt" fill="none"/>
<path d="M250.48 1010.8L267.68 1027.2M250.48 1027.2L267.68 1010.8" stroke="#000000" stroke-width="3.6" stroke-linecap="butt" fill="none"/>
<path d="M287.7 998.6L304.9 1015M287.7 1015L304.9 998.6" stroke="#000000" stroke-width="3.6" stroke-linecap="butt" fill="none"/>
<path d="M337.32 981.5L354.52 997.9M337.32 997.9L354.52 981.5" stroke="#000000" stroke-width="3.6" stroke-linecap="butt" fill="none"/>
<path d="M424.16 965.3L441.36 981.7M424.16 981.7L441.36 965.3" stroke="#000000" stroke-width="3.6" stroke-linecap="butt" fill="none"/>
<path d="M498.59 961.5L515.79 977.9M498.59 977.9L515.79 961.5" stroke="#000000" stroke-width="3.6" stroke-linecap="butt" fill="none"/>
</g>
<g clip-path="url(#c3)">
<polyline points="73,1049 135.03,1041.5 197.05,1022.8 259.08,1019 296.3,1003.8 345.92,977 432.76,959.6 507.19,961.8" fill="none" stroke="#008000" stroke-width="1.6"/>
<path d="M259.08 1007.8V1030M253.88 1007.8H264.28M253.88 1030H264.28" stroke="#008000" stroke-width="1.8" fill="none"/>
<path d="M432.76 950.3V966.9M427.56 950.3H437.96M427.56 966.9H437.96" stroke="#008000" stroke-width="1.8" fill="none"/>
<rect x="66.5" y="1042.5" width="13" height="13" fill="#008000"/>
<rect x="128.53" y="1035" width="13" height="13" fill="#008000"/>
<rect x="190.55" y="1016.3" width="13" height="13" fill="#008000"/>
<rect x="252.58" y="1012.5" width="13" height="13" fill="#008000"/>
<rect x="289.8" y="997.3" width="13" height="13" fill="#008000"/>
<rect x="339.42" y="970.5" width="13" height="13" fill="#008000"/>
<rect x="426.26" y="953.1" width="13" height="13" fill="#008000"/>
<rect x="500.69" y="955.3" width="13" height="13" fill="#008000"/>
<polyline points="73,1050 135.03,1042.4 197.05,1001.3 259.08,987 296.3,970.5 345.92,949 432.76,926 507.19,919.2" fill="none" stroke="#ff00ff" stroke-width="1.6"/>
<path d="M197.05 995.3V1005.8M191.85 995.3H202.25M191.85 1005.8H202.25" stroke="#ff00ff" stroke-width="1.8" fill="none"/>
<path d="M296.3 962V978M291.1 962H301.5M291.1 978H301.5" stroke="#ff00ff" stroke-width="1.8" fill="none"/>
<path d="M345.92 940.3V958.8M340.72 940.3H351.12M340.72 958.8H351.12" stroke="#ff00ff" stroke-width="1.8" fill="none"/>
<path d="M432.76 920.8V933M427.56 920.8H437.96M427.56 933H437.96" stroke="#ff00ff" stroke-width="1.8" fill="none"/>
<path d="M73 1041.3L81.5 1055.8L64.5 1055.8Z" fill="#ff00ff"/><path d="M73 1047.03L76.44 1052.9L69.56 1052.9Z" fill="#fff"/>
<path d="M135.03 1033.7L143.53 1048.2L126.53 1048.2Z" fill="#ff00ff"/><path d="M135.03 1039.43L138.47 1045.3L131.59 1045.3Z" fill="#fff"/>
<path d="M197.05 992.6L205.55 1007.1L188.55 1007.1Z" fill="#ff00ff"/><path d="M197.05 998.33L200.49 1004.2L193.62 1004.2Z" fill="#fff"/>
<path d="M259.08 978.3L267.58 992.8L250.58 992.8Z" fill="#ff00ff"/><path d="M259.08 984.03L262.52 989.9L255.64 989.9Z" fill="#fff"/>
<path d="M296.3 961.8L304.8 976.3L287.8 976.3Z" fill="#ff00ff"/><path d="M296.3 967.53L299.74 973.4L292.86 973.4Z" fill="#fff"/>
<path d="M345.92 940.3L354.42 954.8L337.42 954.8Z" fill="#ff00ff"/><path d="M345.92 946.03L349.36 951.9L342.48 951.9Z" fill="#fff"/>
<path d="M432.76 917.3L441.26 931.8L424.26 931.8Z" fill="#ff00ff"/><path d="M432.76 923.03L436.2 928.9L429.32 928.9Z" fill="#fff"/>
<path d="M507.19 910.5L515.69 925L498.69 925Z" fill="#ff00ff"/><path d="M507.19 916.23L510.63 922.1L503.75 922.1Z" fill="#fff"/>
<polyline points="73,1049 135.03,1023 197.05,995.2 259.08,966.5 296.3,942.3 345.92,920.7 432.76,908 507.19,895.1" fill="none" stroke="#808000" stroke-width="1.6"/>
<path d="M197.05 989V1002M191.85 989H202.25M191.85 1002H202.25" stroke="#808000" stroke-width="1.8" fill="none"/>
<path d="M296.3 930.4V953.4M291.1 930.4H301.5M291.1 953.4H301.5" stroke="#808000" stroke-width="1.8" fill="none"/>
<path d="M432.76 897.6V919M427.56 897.6H437.96M427.56 919H437.96" stroke="#808000" stroke-width="1.8" fill="none"/>
<path d="M507.19 882.8V906.1M501.99 882.8H512.39M501.99 906.1H512.39" stroke="#808000" stroke-width="1.8" fill="none"/>
<path d="M73 1040L82 1049L73 1058L64 1049ZM73 1044.4L68.4 1049L73 1053.6L77.6 1049Z" fill="#808000" fill-rule="evenodd"/><path d="M73 1044.4L77.6 1049L73 1053.6L68.4 1049Z" fill="#fff"/>
<path d="M135.03 1014L144.03 1023L135.03 1032L126.03 1023ZM135.03 1018.4L130.43 1023L135.03 1027.6L139.63 1023Z" fill="#808000" fill-rule="evenodd"/><path d="M135.03 1018.4L139.63 1023L135.03 1027.6L130.43 1023Z" fill="#fff"/>
<path d="M197.05 986.2L206.05 995.2L197.05 1004.2L188.05 995.2ZM197.05 990.6L192.45 995.2L197.05 999.8L201.65 995.2Z" fill="#808000" fill-rule="evenodd"/><path d="M197.05 990.6L201.65 995.2L197.05 999.8L192.45 995.2Z" fill="#fff"/>
<path d="M259.08 957.5L268.08 966.5L259.08 975.5L250.08 966.5ZM259.08 961.9L254.48 966.5L259.08 971.1L263.68 966.5Z" fill="#808000" fill-rule="evenodd"/><path d="M259.08 961.9L263.68 966.5L259.08 971.1L254.48 966.5Z" fill="#fff"/>
<path d="M296.3 933.3L305.3 942.3L296.3 951.3L287.3 942.3ZM296.3 937.7L291.7 942.3L296.3 946.9L300.9 942.3Z" fill="#808000" fill-rule="evenodd"/><path d="M296.3 937.7L300.9 942.3L296.3 946.9L291.7 942.3Z" fill="#fff"/>
<path d="M345.92 911.7L354.92 920.7L345.92 929.7L336.92 920.7ZM345.92 916.1L341.32 920.7L345.92 925.3L350.52 920.7Z" fill="#808000" fill-rule="evenodd"/><path d="M345.92 916.1L350.52 920.7L345.92 925.3L341.32 920.7Z" fill="#fff"/>
<path d="M432.76 899L441.76 908L432.76 917L423.76 908ZM432.76 903.4L428.16 908L432.76 912.6L437.36 908Z" fill="#808000" fill-rule="evenodd"/><path d="M432.76 903.4L437.36 908L432.76 912.6L428.16 908Z" fill="#fff"/>
<path d="M507.19 886.1L516.19 895.1L507.19 904.1L498.19 895.1ZM507.19 890.5L502.59 895.1L507.19 899.7L511.79 895.1Z" fill="#808000" fill-rule="evenodd"/><path d="M507.19 890.5L511.79 895.1L507.19 899.7L502.59 895.1Z" fill="#fff"/>
<polyline points="73,1041.3 135.03,1016.6 197.05,1001.3 259.08,980.2 296.3,962 345.92,933.2 432.76,918.2 507.19,974.5" fill="none" stroke="#ff0000" stroke-width="1.6"/>
<path d="M135.03 1012V1020M129.83 1012H140.23M129.83 1020H140.23" stroke="#ff0000" stroke-width="1.8" fill="none"/>
<path d="M259.08 976V983M253.88 976H264.28M253.88 983H264.28" stroke="#ff0000" stroke-width="1.8" fill="none"/>
<path d="M296.3 952.5V968M291.1 952.5H301.5M291.1 968H301.5" stroke="#ff0000" stroke-width="1.8" fill="none"/>
<path d="M345.92 929V937M340.72 929H351.12M340.72 937H351.12" stroke="#ff0000" stroke-width="1.8" fill="none"/>
<path d="M432.76 914V922M427.56 914H437.96M427.56 922H437.96" stroke="#ff0000" stroke-width="1.8" fill="none"/>
<path d="M507.19 969.8V983.5M501.99 969.8H512.39M501.99 983.5H512.39" stroke="#ff0000" stroke-width="1.8" fill="none"/>
</g>
<path d="M532 837V1071.5" stroke="#000" stroke-width="2"/>
<path d="M524 1049.3H532" stroke="#000" stroke-width="2"/>
<text x="540.5" y="1055.02" font-size="19.3" text-anchor="start" font-weight="normal">0</text>
<path d="M528 1017.58H532" stroke="#000" stroke-width="2"/>
<path d="M524 985.87H532" stroke="#000" stroke-width="2"/>
<text x="540.5" y="991.59" font-size="19.3" text-anchor="start" font-weight="normal">3</text>
<path d="M528 954.15H532" stroke="#000" stroke-width="2"/>
<path d="M524 922.43H532" stroke="#000" stroke-width="2"/>
<text x="540.5" y="928.16" font-size="19.3" text-anchor="start" font-weight="normal">6</text>
<path d="M528 890.72H532" stroke="#000" stroke-width="2"/>
<path d="M524 859H532" stroke="#000" stroke-width="2"/>
<text x="540.5" y="864.72" font-size="19.3" text-anchor="start" font-weight="normal">9</text>
<g transform="translate(96.7 869.4) scale(1 1)"><text x="0" y="0" font-size="29" font-weight="bold">D</text></g>
<clipPath id="c4"><rect x="72" y="1100.5" width="461" height="233.9"/></clipPath>
<rect x="73" y="1101.5" width="459" height="231.9" fill="none" stroke="#000" stroke-width="2"/>
<path d="M73 1316.3H81" stroke="#000" stroke-width="2"/>
<text x="63.8" y="1322.12" font-size="19.3" text-anchor="end" font-weight="normal">0</text>
<path d="M73 1283.07H77" stroke="#000" stroke-width="2"/>
<path d="M73 1249.83H81" stroke="#000" stroke-width="2"/>
<text x="63.8" y="1255.66" font-size="19.3" text-anchor="end" font-weight="normal">40</text>
<path d="M73 1216.6H77" stroke="#000" stroke-width="2"/>
<path d="M73 1183.37H81" stroke="#000" stroke-width="2"/>
<text x="63.8" y="1189.19" font-size="19.3" text-anchor="end" font-weight="normal">80</text>
<path d="M73 1150.13H77" stroke="#000" stroke-width="2"/>
<path d="M73 1116.9H81" stroke="#000" stroke-width="2"/>
<text x="63.8" y="1122.72" font-size="19.3" text-anchor="end" font-weight="normal">120</text>
<path d="M73 1333.4V1325.4" stroke="#000" stroke-width="1.6"/>
<text x="73" y="1358.22" font-size="19.3" text-anchor="middle" font-weight="normal">0</text>
<path d="M111.25 1333.4V1329.4" stroke="#000" stroke-width="1.6"/>
<path d="M149.5 1333.4V1325.4" stroke="#000" stroke-width="1.6"/>
<text x="149.5" y="1358.22" font-size="19.3" text-anchor="middle" font-weight="normal">5</text>
<path d="M187.75 1333.4V1329.4" stroke="#000" stroke-width="1.6"/>
<path d="M226 1333.4V1325.4" stroke="#000" stroke-width="1.6"/>
<text x="226" y="1358.22" font-size="19.3" text-anchor="middle" font-weight="normal">10</text>
<path d="M264.25 1333.4V1329.4" stroke="#000" stroke-width="1.6"/>
<path d="M302.5 1333.4V1325.4" stroke="#000" stroke-width="1.6"/>
<text x="302.5" y="1358.22" font-size="19.3" text-anchor="middle" font-weight="normal">15</text>
<path d="M340.75 1333.4V1329.4" stroke="#000" stroke-width="1.6"/>
<path d="M379 1333.4V1325.4" stroke="#000" stroke-width="1.6"/>
<text x="379" y="1358.22" font-size="19.3" text-anchor="middle" font-weight="normal">20</text>
<path d="M417.25 1333.4V1329.4" stroke="#000" stroke-width="1.6"/>
<path d="M455.5 1333.4V1325.4" stroke="#000" stroke-width="1.6"/>
<text x="455.5" y="1358.22" font-size="19.3" text-anchor="middle" font-weight="normal">25</text>
<path d="M493.75 1333.4V1329.4" stroke="#000" stroke-width="1.6"/>
<path d="M532 1333.4V1325.4" stroke="#000" stroke-width="1.6"/>
<text x="532" y="1358.22" font-size="19.3" text-anchor="middle" font-weight="normal">30</text>
<g clip-path="url(#c4)">
<polyline points="73,1140.1 149.5,1156.2 226,1202 287.2,1238.5 348.4,1270.6 409.6,1300 455.5,1312 516.7,1313.7" fill="none" stroke="#0000ff" stroke-width="1.6"/>
<path d="M73 1128.5V1149.7M67.8 1128.5H78.2M67.8 1149.7H78.2" stroke="#0000ff" stroke-width="1.8" fill="none"/>
<path d="M149.5 1147.7V1163.2M144.3 1147.7H154.7M144.3 1163.2H154.7" stroke="#0000ff" stroke-width="1.8" fill="none"/>
<path d="M348.4 1263V1278.5M343.2 1263H353.6M343.2 1278.5H353.6" stroke="#0000ff" stroke-width="1.8" fill="none"/>
<path d="M64.2 1134.02L81.8 1134.02L73 1150.02Z" fill="#0000ff"/>
<path d="M140.7 1150.12L158.3 1150.12L149.5 1166.12Z" fill="#0000ff"/>
<path d="M217.2 1195.92L234.8 1195.92L226 1211.92Z" fill="#0000ff"/>
<path d="M278.4 1232.42L296 1232.42L287.2 1248.42Z" fill="#0000ff"/>
<path d="M339.6 1264.52L357.2 1264.52L348.4 1280.52Z" fill="#0000ff"/>
<path d="M400.8 1293.92L418.4 1293.92L409.6 1309.92Z" fill="#0000ff"/>
<path d="M446.7 1305.92L464.3 1305.92L455.5 1321.92Z" fill="#0000ff"/>
<path d="M507.9 1307.62L525.5 1307.62L516.7 1323.62Z" fill="#0000ff"/>
<polyline points="73,1315.8 149.5,1309.7 226,1284.3 287.2,1266.4 348.4,1254.1 409.6,1235.5 455.5,1233.7 516.7,1230.2" fill="none" stroke="#000000" stroke-width="1.6"/>
<path d="M348.4 1246V1262M343.2 1246H353.6M343.2 1262H353.6" stroke="#000000" stroke-width="1.8" fill="none"/>
<path d="M64.4 1307.6L81.6 1324M64.4 1324L81.6 1307.6" stroke="#000000" stroke-width="3.6" stroke-linecap="butt" fill="none"/>
<path d="M140.9 1301.5L158.1 1317.9M140.9 1317.9L158.1 1301.5" stroke="#000000" stroke-width="3.6" stroke-linecap="butt" fill="none"/>
<path d="M217.4 1276.1L234.6 1292.5M217.4 1292.5L234.6 1276.1" stroke="#000000" stroke-width="3.6" stroke-linecap="butt" fill="none"/>
<path d="M278.6 1258.2L295.8 1274.6M278.6 1274.6L295.8 1258.2" stroke="#000000" stroke-width="3.6" stroke-linecap="butt" fill="none"/>
<path d="M339.8 1245.9L357 1262.3M339.8 1262.3L357 1245.9" stroke="#000000" stroke-width="3.6" stroke-linecap="butt" fill="none"/>
<path d="M401 1227.3L418.2 1243.7M401 1243.7L418.2 1227.3" stroke="#000000" stroke-width="3.6" stroke-linecap="butt" fill="none"/>
<path d="M446.9 1225.5L464.1 1241.9M446.9 1241.9L464.1 1225.5" stroke="#000000" stroke-width="3.6" stroke-linecap="butt" fill="none"/>
<path d="M508.1 1222L525.3 1238.4M508.1 1238.4L525.3 1222" stroke="#000000" stroke-width="3.6" stroke-linecap="butt" fill="none"/>
</g>
<g clip-path="url(#c4)">
<polyline points="73,1311.9 149.5,1269.8 226,1202.2 287.2,1164.6 348.4,1158.9 409.6,1158.9 455.5,1166.6 516.7,1182.2" fill="none" stroke="#ff0000" stroke-width="1.6"/>
<path d="M226 1194V1210.5M220.8 1194H231.2M220.8 1210.5H231.2" stroke="#ff0000" stroke-width="1.8" fill="none"/>
<path d="M287.2 1149.7V1178.6M282 1149.7H292.4M282 1178.6H292.4" stroke="#ff0000" stroke-width="1.8" fill="none"/>
<path d="M409.6 1149.5V1167.9M404.4 1149.5H414.8M404.4 1167.9H414.8" stroke="#ff0000" stroke-width="1.8" fill="none"/>
<path d="M455.5 1158V1175M450.3 1158H460.7M450.3 1175H460.7" stroke="#ff0000" stroke-width="1.8" fill="none"/>
<circle cx="73" cy="1311.9" r="7.4" fill="#ff0000"/>
<circle cx="149.5" cy="1269.8" r="7.4" fill="#ff0000"/>
<circle cx="226" cy="1202.2" r="7.4" fill="#ff0000"/>
<circle cx="287.2" cy="1164.6" r="7.4" fill="#ff0000"/>
<circle cx="348.4" cy="1158.9" r="7.4" fill="#ff0000"/>
<circle cx="409.6" cy="1158.9" r="7.4" fill="#ff0000"/>
<circle cx="455.5" cy="1166.6" r="7.4" fill="#ff0000"/>
<circle cx="516.7" cy="1182.2" r="7.4" fill="#ff0000"/>
<polyline points="73,1311.9 149.5,1293.4 226,1259 287.2,1247.4 348.4,1211 409.6,1192.2 455.5,1182.5 516.7,1185" fill="none" stroke="#ff00ff" stroke-width="1.6"/>
<path d="M409.6 1182.6V1201.8M404.4 1182.6H414.8M404.4 1201.8H414.8" stroke="#ff00ff" stroke-width="1.8" fill="none"/>
<path d="M73 1303.2L81.5 1317.7L64.5 1317.7Z" fill="#ff00ff"/><path d="M73 1308.93L76.44 1314.8L69.56 1314.8Z" fill="#fff"/>
<path d="M149.5 1284.7L158 1299.2L141 1299.2Z" fill="#ff00ff"/><path d="M149.5 1290.43L152.94 1296.3L146.06 1296.3Z" fill="#fff"/>
<path d="M226 1250.3L234.5 1264.8L217.5 1264.8Z" fill="#ff00ff"/><path d="M226 1256.03L229.44 1261.9L222.56 1261.9Z" fill="#fff"/>
<path d="M287.2 1238.7L295.7 1253.2L278.7 1253.2Z" fill="#ff00ff"/><path d="M287.2 1244.43L290.64 1250.3L283.76 1250.3Z" fill="#fff"/>
<path d="M348.4 1202.3L356.9 1216.8L339.9 1216.8Z" fill="#ff00ff"/><path d="M348.4 1208.03L351.84 1213.9L344.96 1213.9Z" fill="#fff"/>
<path d="M409.6 1183.5L418.1 1198L401.1 1198Z" fill="#ff00ff"/><path d="M409.6 1189.23L413.04 1195.1L406.16 1195.1Z" fill="#fff"/>
<path d="M455.5 1173.8L464 1188.3L447 1188.3Z" fill="#ff00ff"/><path d="M455.5 1179.53L458.94 1185.4L452.06 1185.4Z" fill="#fff"/>
<path d="M516.7 1176.3L525.2 1190.8L508.2 1190.8Z" fill="#ff00ff"/><path d="M516.7 1182.03L520.14 1187.9L513.26 1187.9Z" fill="#fff"/>
<polyline points="73,1313.1 149.5,1290 226,1249.3 287.2,1233 348.4,1186.4 409.6,1169.5 455.5,1159.7 516.7,1148.4" fill="none" stroke="#808000" stroke-width="1.6"/>
<path d="M226 1242.1V1255.6M220.8 1242.1H231.2M220.8 1255.6H231.2" stroke="#808000" stroke-width="1.8" fill="none"/>
<path d="M287.2 1224.8V1238.3M282 1224.8H292.4M282 1238.3H292.4" stroke="#808000" stroke-width="1.8" fill="none"/>
<path d="M348.4 1175.3V1196.7M343.2 1175.3H353.6M343.2 1196.7H353.6" stroke="#808000" stroke-width="1.8" fill="none"/>
<path d="M455.5 1145V1173.4M450.3 1145H460.7M450.3 1173.4H460.7" stroke="#808000" stroke-width="1.8" fill="none"/>
<path d="M73 1304.1L82 1313.1L73 1322.1L64 1313.1ZM73 1308.5L68.4 1313.1L73 1317.7L77.6 1313.1Z" fill="#808000" fill-rule="evenodd"/><path d="M73 1308.5L77.6 1313.1L73 1317.7L68.4 1313.1Z" fill="#fff"/>
<path d="M149.5 1281L158.5 1290L149.5 1299L140.5 1290ZM149.5 1285.4L144.9 1290L149.5 1294.6L154.1 1290Z" fill="#808000" fill-rule="evenodd"/><path d="M149.5 1285.4L154.1 1290L149.5 1294.6L144.9 1290Z" fill="#fff"/>
<path d="M226 1240.3L235 1249.3L226 1258.3L217 1249.3ZM226 1244.7L221.4 1249.3L226 1253.9L230.6 1249.3Z" fill="#808000" fill-rule="evenodd"/><path d="M226 1244.7L230.6 1249.3L226 1253.9L221.4 1249.3Z" fill="#fff"/>
<path d="M287.2 1224L296.2 1233L287.2 1242L278.2 1233ZM287.2 1228.4L282.6 1233L287.2 1237.6L291.8 1233Z" fill="#808000" fill-rule="evenodd"/><path d="M287.2 1228.4L291.8 1233L287.2 1237.6L282.6 1233Z" fill="#fff"/>
<path d="M348.4 1177.4L357.4 1186.4L348.4 1195.4L339.4 1186.4ZM348.4 1181.8L343.8 1186.4L348.4 1191L353 1186.4Z" fill="#808000" fill-rule="evenodd"/><path d="M348.4 1181.8L353 1186.4L348.4 1191L343.8 1186.4Z" fill="#fff"/>
<path d="M409.6 1160.5L418.6 1169.5L409.6 1178.5L400.6 1169.5ZM409.6 1164.9L405 1169.5L409.6 1174.1L414.2 1169.5Z" fill="#808000" fill-rule="evenodd"/><path d="M409.6 1164.9L414.2 1169.5L409.6 1174.1L405 1169.5Z" fill="#fff"/>
<path d="M455.5 1150.7L464.5 1159.7L455.5 1168.7L446.5 1159.7ZM455.5 1155.1L450.9 1159.7L455.5 1164.3L460.1 1159.7Z" fill="#808000" fill-rule="evenodd"/><path d="M455.5 1155.1L460.1 1159.7L455.5 1164.3L450.9 1159.7Z" fill="#fff"/>
<path d="M516.7 1139.4L525.7 1148.4L516.7 1157.4L507.7 1148.4ZM516.7 1143.8L512.1 1148.4L516.7 1153L521.3 1148.4Z" fill="#808000" fill-rule="evenodd"/><path d="M516.7 1143.8L521.3 1148.4L516.7 1153L512.1 1148.4Z" fill="#fff"/>
<polyline points="73,1313.1 149.5,1290.6 226,1267 287.2,1248.9 348.4,1247 409.6,1240.4 455.5,1238.7 516.7,1242.5" fill="none" stroke="#008000" stroke-width="1.6"/>
<path d="M348.4 1236V1258.2M343.2 1236H353.6M343.2 1258.2H353.6" stroke="#008000" stroke-width="1.8" fill="none"/>
<path d="M409.6 1228.7V1253.4M404.4 1228.7H414.8M404.4 1253.4H414.8" stroke="#008000" stroke-width="1.8" fill="none"/>
<rect x="66.5" y="1306.6" width="13" height="13" fill="#008000"/>
<rect x="143" y="1284.1" width="13" height="13" fill="#008000"/>
<rect x="219.5" y="1260.5" width="13" height="13" fill="#008000"/>
<rect x="280.7" y="1242.4" width="13" height="13" fill="#008000"/>
<rect x="341.9" y="1240.5" width="13" height="13" fill="#008000"/>
<rect x="403.1" y="1233.9" width="13" height="13" fill="#008000"/>
<rect x="449" y="1232.2" width="13" height="13" fill="#008000"/>
<rect x="510.2" y="1236" width="13" height="13" fill="#008000"/>
</g>
<path d="M532 1100.5V1334.4" stroke="#000" stroke-width="2"/>
<path d="M524 1312.3H532" stroke="#000" stroke-width="2"/>
<text x="540.5" y="1318.02" font-size="19.3" text-anchor="start" font-weight="normal">0</text>
<path d="M528 1280.58H532" stroke="#000" stroke-width="2"/>
<path d="M524 1248.87H532" stroke="#000" stroke-width="2"/>
<text x="540.5" y="1254.59" font-size="19.3" text-anchor="start" font-weight="normal">3</text>
<path d="M528 1217.15H532" stroke="#000" stroke-width="2"/>
<path d="M524 1185.43H532" stroke="#000" stroke-width="2"/>
<text x="540.5" y="1191.16" font-size="19.3" text-anchor="start" font-weight="normal">6</text>
<path d="M528 1153.72H532" stroke="#000" stroke-width="2"/>
<path d="M524 1122H532" stroke="#000" stroke-width="2"/>
<text x="540.5" y="1127.72" font-size="19.3" text-anchor="start" font-weight="normal">9</text>
<g transform="translate(93.7 1137.2) scale(1 1)"><text x="0" y="0" font-size="29" font-weight="bold">E</text></g>
<path d="M96 12H136" stroke="#0000ff" stroke-width="1.7"/><path d="M107.2 5.92L124.8 5.92L116 21.92Z" fill="#0000ff"/><text x="138.5" y="17.7" font-size="17" text-anchor="start" font-weight="normal">Glycerol</text>
<path d="M202.6 12H241.6" stroke="#000000" stroke-width="1.7"/><path d="M213.5 3.8L230.7 20.2M213.5 20.2L230.7 3.8" stroke="#000000" stroke-width="3.6" stroke-linecap="butt" fill="none"/><text x="246.5" y="17.7" font-size="17" text-anchor="start" font-weight="normal">1,3-PDO</text>
<path d="M312.5 12H351.3" stroke="#ff0000" stroke-width="1.7"/><circle cx="331.9" cy="12" r="7.4" fill="#ff0000"/><text x="354.5" y="17.7" font-size="17">OD<tspan font-size="12" dy="3.5">650nm</tspan></text>
<path d="M412 12H451" stroke="#808000" stroke-width="1.7"/><path d="M431.5 3L440.5 12L431.5 21L422.5 12ZM431.5 7.4L426.9 12L431.5 16.6L436.1 12Z" fill="#808000" fill-rule="evenodd"/><path d="M431.5 7.4L436.1 12L431.5 16.6L426.9 12Z" fill="#fff"/><text x="454.5" y="17.7" font-size="17" text-anchor="start" font-weight="normal">Butyrate</text>
<path d="M207 36H246.3" stroke="#ff00ff" stroke-width="1.7"/><path d="M226.65 27.3L235.15 41.8L218.15 41.8Z" fill="#ff00ff"/><path d="M226.65 33.03L230.09 38.9L223.21 38.9Z" fill="#fff"/><text x="250.5" y="41" font-size="17" text-anchor="start" font-weight="normal">Acetate</text>
<path d="M306 36H344.6" stroke="#008000" stroke-width="1.7"/><rect x="318.8" y="29.5" width="13" height="13" fill="#008000"/><text x="348.5" y="41" font-size="17" text-anchor="start" font-weight="normal">Lactate</text>
<g transform="translate(17.2 691.5) rotate(-90) scale(1 1.05)"><text x="0" y="0" font-size="23.4" font-weight="bold" text-anchor="middle" textLength="286" lengthAdjust="spacingAndGlyphs" xml:space="preserve">Glycerol and 1,3-PDO  (g/L)</text></g>
<g transform="translate(587.6 875.8) rotate(-90) scale(1 1)"><text x="0" y="0" font-size="24.5" font-weight="bold" textLength="36.5" lengthAdjust="spacingAndGlyphs" xml:space="preserve">OD</text></g>
<g transform="translate(596.2 840.5) rotate(-90) scale(1 1)"><text x="0" y="0" font-size="21.5" font-weight="bold" textLength="68.5" lengthAdjust="spacingAndGlyphs" xml:space="preserve">650nm</text></g>
<g transform="translate(588.7 766) rotate(-90) scale(1 1)"><text x="0" y="0" font-size="26.5" font-weight="bold" textLength="260.5" lengthAdjust="spacingAndGlyphs" xml:space="preserve">and byproducts  (g/L)</text></g>
<text x="302.5" y="1395" font-size="23.5" font-weight="bold" text-anchor="middle">Time (h)</text>
</svg>
</body></html>
